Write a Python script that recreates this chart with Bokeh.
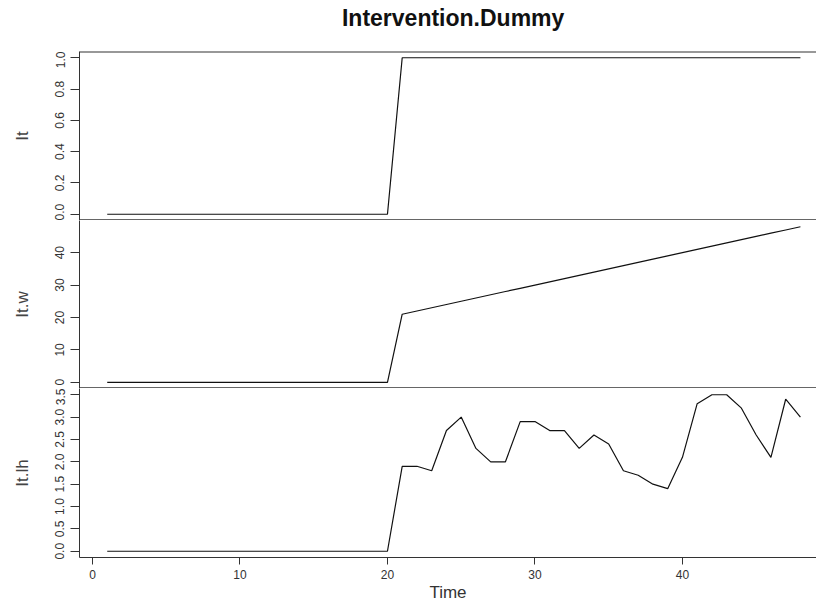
from bokeh.plotting import figure
from bokeh.layouts import column
from bokeh.models import Range1d, FixedTicker, NumeralTickFormatter, Span, ColumnDataSource, Label
from bokeh.embed import file_html
from bokeh.resources import INLINE

# ---- data ----
time = [1, 2, 3, 4, 5, 6, 7, 8, 9, 10, 11, 12, 13, 14, 15, 16, 17, 18, 19, 20,
        21, 22, 23, 24, 25, 26, 27, 28, 29, 30, 31, 32, 33, 34, 35, 36, 37, 38, 39, 40,
        41, 42, 43, 44, 45, 46, 47, 48]
it_vals = [0, 0, 0, 0, 0, 0, 0, 0, 0, 0, 0, 0, 0, 0, 0, 0, 0, 0, 0, 0,
           1, 1, 1, 1, 1, 1, 1, 1, 1, 1, 1, 1, 1, 1, 1, 1, 1, 1, 1, 1,
           1, 1, 1, 1, 1, 1, 1, 1]
it_w = [0, 0, 0, 0, 0, 0, 0, 0, 0, 0, 0, 0, 0, 0, 0, 0, 0, 0, 0, 0,
        21, 22, 23, 24, 25, 26, 27, 28, 29, 30, 31, 32, 33, 34, 35, 36, 37, 38, 39, 40,
        41, 42, 43, 44, 45, 46, 47, 48]
it_lh = [0, 0, 0, 0, 0, 0, 0, 0, 0, 0, 0, 0, 0, 0, 0, 0, 0, 0, 0, 0,
         1.9, 1.9, 1.8, 2.7, 3.0, 2.3, 2.0, 2.0, 2.9, 2.9, 2.7, 2.7, 2.3, 2.6, 2.4, 1.8,
         1.7, 1.5, 1.4, 2.1, 3.3, 3.5, 3.5, 3.2, 2.6, 2.1, 3.4, 3.0]

x_ticks = [0, 10, 20, 30, 40]
it_ticks = [0.0, 0.2, 0.4, 0.6, 0.8, 1.0]
itw_ticks = [0, 10, 20, 30, 40]
itlh_ticks = [0.0, 0.5, 1.0, 1.5, 2.0, 2.5, 3.0, 3.5]

title_text = "Intervention.Dummy"
x_label = "Time"
labels = ["It", "It.w", "It.lh"]

FONT = "Liberation Sans"
LINE = "#333333"

xr = Range1d(-0.88, 49.09)


def panel(y, ylabel, yr, ticks, fmt, height, top, bottom, xaxis=False):
    p = figure(width=816, height=height, x_range=xr, y_range=Range1d(*yr),
               output_backend="svg", toolbar_location=None,
               x_axis_location="below" if xaxis else None,
               min_border_left=79, min_border_right=0,
               min_border_top=top, min_border_bottom=bottom)
    p.outline_line_color = None
    p.grid.visible = False
    p.background_fill_color = "white"
    p.border_fill_color = "white"
    src = ColumnDataSource(dict(t=time, v=y))
    p.line("t", "v", source=src, line_color="#111111", line_width=1.2)
    ya = p.yaxis[0]
    ya.ticker = FixedTicker(ticks=ticks)
    ya.formatter = NumeralTickFormatter(format=fmt)
    ya.axis_label = ylabel
    ya.axis_label_text_font = FONT
    ya.axis_label_text_font_style = "normal"
    ya.axis_label_text_font_size = "17px"
    ya.axis_label_text_color = "#444444"
    ya.axis_label_standoff = 21
    ya.major_label_orientation = "vertical"
    ya.major_label_text_font = FONT
    ya.major_label_text_font_size = "12px"
    ya.major_label_text_color = "#333333"
    ya.major_label_standoff = 6
    ya.major_tick_out = 9
    ya.major_tick_in = 0
    ya.minor_tick_line_color = None
    ya.axis_line_color = LINE
    ya.major_tick_line_color = LINE
    if xaxis:
        xa = p.xaxis[0]
        xa.ticker = FixedTicker(ticks=x_ticks)
        xa.axis_label = x_label
        xa.axis_label_text_font = FONT
        xa.axis_label_text_font_style = "normal"
        xa.axis_label_text_font_size = "17px"
        xa.axis_label_text_color = "#333333"
        xa.axis_label_standoff = 1
        xa.major_label_text_font = FONT
        xa.major_label_text_font_size = "12px"
        xa.major_label_text_color = "#333333"
        xa.major_label_standoff = 5
        xa.major_tick_out = 7
        xa.major_tick_in = 0
        xa.minor_tick_line_color = None
        xa.axis_line_color = LINE
        xa.major_tick_line_color = LINE
    return p


# title strip
p0 = figure(width=816, height=51, x_range=Range1d(0, 1), y_range=Range1d(0, 1),
            output_backend="svg", toolbar_location=None,
            x_axis_location=None, y_axis_location=None,
            min_border_left=79, min_border_right=0, min_border_top=0, min_border_bottom=0)
p0.outline_line_color = None
p0.grid.visible = False
p0.border_fill_color = "white"
p0.add_layout(Label(x=0.507, y=0.65, text=title_text, text_align="center",
                    text_baseline="middle", text_font=FONT, text_font_size="23px",
                    text_font_style="bold", text_color="#111111"))

p1 = panel(it_vals, labels[0], (-0.04, 1.04), it_ticks, "0.0", 169, 0, 0)
p1.add_layout(Span(location=1.04, dimension="width", line_color=LINE, line_width=2))
p1.add_layout(Span(location=-0.04, dimension="width", line_color=LINE, line_width=2.5))

p2 = panel(it_w, labels[1], (-1.92, 49.92), itw_ticks, "0", 168, 0, 0)
p2.add_layout(Span(location=-1.92, dimension="width", line_color=LINE, line_width=2.5))

p3 = panel(it_lh, labels[2], (-0.14, 3.64), itlh_ticks, "0.0", 217, 0, 48, xaxis=True)

layout = column(p0, p1, p2, p3, spacing=0)

open("out.html", "w").write(file_html(layout, INLINE))
